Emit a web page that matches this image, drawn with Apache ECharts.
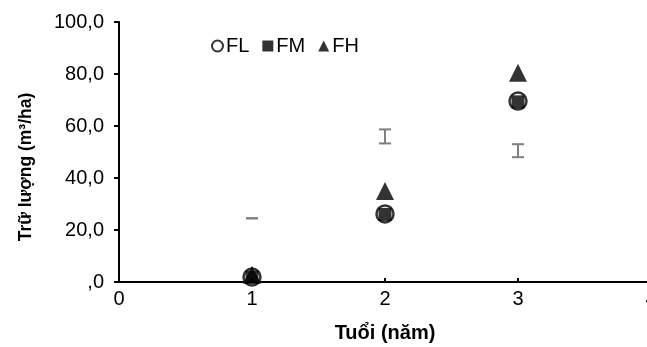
<!DOCTYPE html>
<html><head><meta charset="utf-8">
<script src="https://cdn.jsdelivr.net/npm/echarts@6/dist/echarts.min.js"></script>
<style>html,body{margin:0;padding:0;background:#fff}#c{width:647px;height:347px}</style>
</head><body><div id="c"></div>
<script>
const ages = [1, 2, 3];
const FL = [1.9, 26.2, 69.6];
const FM = [1.9, 26.0, 69.3];
const FH = [2.8, 35.0, 80.5];
const errMean = [24.5, 56.0, 50.5];
const errHalf = [0, 2.7, 2.5];
const xTicks = [0, 1, 2, 3, 4];
const yTicks = [0, 20, 40, 60, 80, 100];

const font = 'Liberation Sans, Arial, sans-serif';
const chart = echarts.init(document.getElementById('c'), null, {renderer: 'canvas'});
chart.setOption({
  animation: false,
  textStyle: {fontFamily: font},
  grid: {left: 119, top: 22, right: -4, bottom: 65, outerBoundsMode: 'none', containLabel: false},
  legend: {
    data: ['FL', 'FM', 'FH'],
    left: 206, top: 31, itemGap: 13, itemWidth: 11, itemHeight: 11,
    textStyle: {fontFamily: font, fontSize: 20, color: '#000', padding: [0, 0, 0, -2]}
  },
  xAxis: {
    type: 'value', min: xTicks[0], max: xTicks[xTicks.length - 1], interval: 1,
    name: 'Tuổi (năm)', nameLocation: 'middle', nameGap: 41,
    nameTextStyle: {fontFamily: font, fontSize: 20, fontWeight: 'bold', color: '#000'},
    axisLine: {lineStyle: {color: '#000', width: 2}},
    axisTick: {inside: true, length: 4, lineStyle: {color: '#000', width: 2}},
    axisLabel: {fontFamily: font, fontSize: 20, color: '#000', margin: 7, hideOverlap: false},
    splitLine: {show: false}
  },
  yAxis: {
    type: 'value', min: yTicks[0], max: yTicks[yTicks.length - 1], interval: 20,
    name: 'Trữ lượng (m³/ha)', nameLocation: 'middle', nameGap: 84,
    nameTextStyle: {fontFamily: font, fontSize: 17.5, fontWeight: 'bold', color: '#000', padding: [0, 30, 0, 0]},
    axisLine: {show: true, lineStyle: {color: '#000', width: 2}},
    axisTick: {show: true, inside: false, length: 5, lineStyle: {color: '#000', width: 2}},
    axisLabel: {fontFamily: font, fontSize: 20, color: '#000', margin: 15,
      formatter: v => v === 0 ? ',0' : v.toFixed(1).replace('.', ',')},
    splitLine: {show: false}
  },
  series: [
    {
      name: 'errbar', type: 'custom', z: 1,
      data: ages.map((a, i) => [a, errMean[i], errHalf[i]]),
      renderItem: function (params, api) {
        const x = api.value(0), m = api.value(1), h = api.value(2);
        const top = api.coord([x, m + h]);
        const bot = api.coord([x, m - h]);
        const w = 6;
        const st = {stroke: '#7f7f7f', lineWidth: 2};
        const ch = [
          {type: 'line', shape: {x1: top[0] - w, y1: top[1], x2: top[0] + w, y2: top[1]}, style: st},
          {type: 'line', shape: {x1: bot[0] - w, y1: bot[1], x2: bot[0] + w, y2: bot[1]}, style: st}
        ];
        if (h > 0) ch.push({type: 'line', shape: {x1: top[0], y1: top[1], x2: bot[0], y2: bot[1]}, style: st});
        return {type: 'group', children: ch};
      }
    },
    {
      name: 'FH', type: 'scatter', symbol: 'triangle', symbolSize: 18, z: 2,
      itemStyle: {color: '#000'},
      data: ages.map((a, i) => [a, FH[i]])
    },
    {
      name: 'FM', type: 'scatter', symbol: 'rect', symbolSize: 13, z: 3,
      itemStyle: {color: '#000'},
      data: ages.map((a, i) => [a, FM[i]])
    },
    {
      name: 'FL', type: 'scatter', symbol: 'circle', symbolSize: 17, z: 4,
      itemStyle: {color: 'rgba(0,0,0,0)', borderColor: '#000', borderWidth: 2.5},
      data: ages.map((a, i) => [a, FL[i]])
    }
  ]
});
</script></body></html>
